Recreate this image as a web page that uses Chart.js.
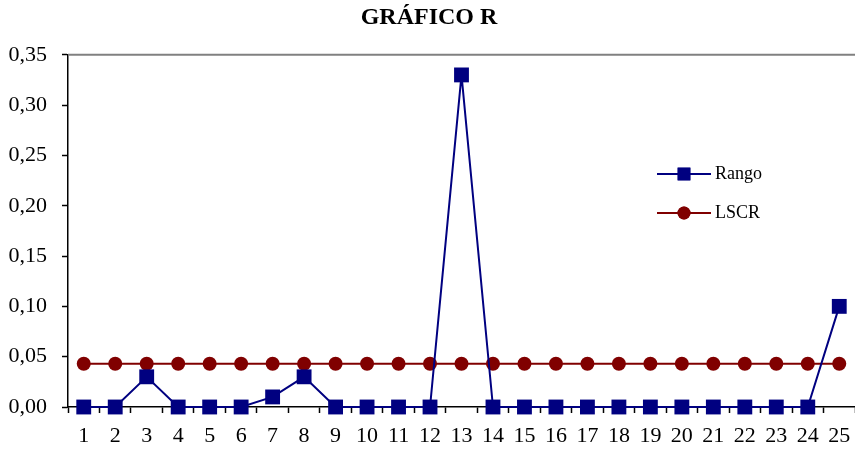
<!DOCTYPE html>
<html>
<head>
<meta charset="utf-8">
<script src="https://cdn.jsdelivr.net/npm/chart.js@4"></script>
<style>
  html, body { margin: 0; padding: 0; background: #fff; }
  #wrap { width: 855px; height: 450px; }
</style>
</head>
<body>
<div id="wrap"><canvas id="rChart" width="855" height="450"></canvas></div>
<script>
const samples = ['1','2','3','4','5','6','7','8','9','10','11','12','13','14','15','16','17','18','19','20','21','22','23','24','25'];
const rango = [0, 0, 0.03, 0, 0, 0, 0.01, 0.03, 0, 0, 0, 0, 0.33, 0, 0, 0, 0, 0, 0, 0, 0, 0, 0, 0, 0.10];
const lscr = [0.043, 0.043, 0.043, 0.043, 0.043, 0.043, 0.043, 0.043, 0.043, 0.043, 0.043, 0.043, 0.043,
              0.043, 0.043, 0.043, 0.043, 0.043, 0.043, 0.043, 0.043, 0.043, 0.043, 0.043, 0.043];

const serif = "'Liberation Serif', 'Times New Roman', serif";

// legend drawn inside the plot area, like the original
const innerLegend = {
    id: 'innerLegend',
    afterDraw(chart) {
        const ctx = chart.ctx;
        const items = [
            { label: 'Rango', color: '#000080', style: 'rect', r: 9, y: 174 },
            { label: 'LSCR', color: '#800000', style: 'circle', r: 6.5, y: 213 }
        ];
        ctx.save();
        items.forEach(it => {
            ctx.strokeStyle = it.color;
            ctx.lineWidth = 2;
            ctx.beginPath();
            ctx.moveTo(657, it.y);
            ctx.lineTo(711, it.y);
            ctx.stroke();
            ctx.fillStyle = it.color;
            Chart.helpers.drawPoint(ctx, { pointStyle: it.style, radius: it.r, borderWidth: 0 }, 684, it.y);
            ctx.fill();
            ctx.fillStyle = '#000';
            ctx.font = '18px ' + serif;
            ctx.textBaseline = 'middle';
            ctx.fillText(it.label, 715, it.y);
        });
        ctx.restore();
    }
};

// grey top border of the plot area
const topBorder = {
    id: 'topBorder',
    beforeDatasetsDraw(chart) {
        const a = chart.chartArea;
        const ctx = chart.ctx;
        ctx.save();
        ctx.strokeStyle = '#808080';
        ctx.lineWidth = 2;
        ctx.beginPath();
        ctx.moveTo(a.left, a.top);
        ctx.lineTo(chart.width, a.top);
        ctx.stroke();
        ctx.restore();
    }
};

new Chart(document.getElementById('rChart').getContext('2d'), {
    type: 'line',
    data: {
        labels: samples,
        datasets: [{
            label: 'Rango',
            data: rango,
            borderColor: '#000080',
            backgroundColor: '#000080',
            borderWidth: 2,
            pointStyle: 'rect',
            pointRadius: 10.5,
            pointBorderWidth: 0,
            tension: 0,
            clip: false
        }, {
            label: 'LSCR',
            data: lscr,
            borderColor: '#800000',
            backgroundColor: '#800000',
            borderWidth: 2,
            pointStyle: 'circle',
            pointRadius: 7,
            pointBorderWidth: 0,
            tension: 0,
            clip: false
        }]
    },
    options: {
        responsive: false,
        animation: false,
        layout: { autoPadding: false, padding: { top: 0, right: -3, bottom: 0, left: 0 } },
        plugins: {
            legend: { display: false },
            tooltip: { enabled: false },
            title: {
                display: true,
                text: 'GRÁFICO R',
                color: '#000',
                font: { family: serif, size: 24, weight: 'bold' },
                padding: { top: 3, bottom: 23 }
            }
        },
        scales: {
            x: {
                offset: true,
                grid: { offset: true, drawOnChartArea: false, tickLength: 6, color: '#000', tickWidth: 1.5 },
                border: { color: '#000', width: 1.5 },
                ticks: { color: '#000', font: { family: serif, size: 22 }, padding: 10, maxRotation: 0, autoSkip: false },
                afterFit(scale) {
                    scale.height = 43;
                    scale.paddingLeft = 0;
                    scale.paddingRight = -3;
                }
            },
            y: {
                min: 0,
                max: 0.35,
                ticks: {
                    stepSize: 0.05,
                    color: '#000',
                    font: { family: serif, size: 22 },
                    padding: 15,
                    callback: v => v.toFixed(2).replace('.', ',')
                },
                grid: { drawOnChartArea: false, tickLength: 6, color: '#000', tickWidth: 1.5 },
                border: { color: '#000', width: 1.5 },
                afterFit(scale) {
                    scale.width = 68;
                    scale.paddingLeft = 0;
                    scale.paddingRight = -3;
                }
            }
        }
    },
    plugins: [topBorder, innerLegend]
});
</script>
</body>
</html>
